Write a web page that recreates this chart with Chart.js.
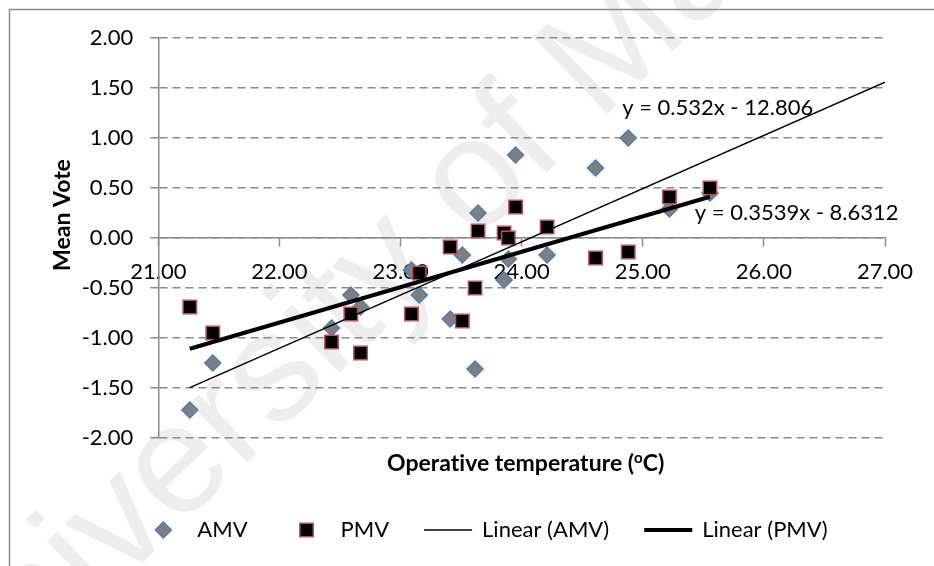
<!DOCTYPE html>
<html>
<head>
<meta charset="utf-8">
<script src="https://cdn.jsdelivr.net/npm/chart.js@4.4.0/dist/chart.umd.min.js"></script>
<style>
html, body { margin: 0; padding: 0; background: #fff; }
#wrap { width: 934px; height: 566px; position: relative; overflow: hidden; }
</style>
</head>
<body>
<div id="wrap"><canvas id="myChart" width="934" height="566"></canvas></div>
<script>
// operative temperature (x) with actual / predicted mean votes
const temps = [21.26, 21.45, 22.43, 22.59, 22.67, 23.09, 23.155, 23.41, 23.51, 23.615, 23.64, 23.855, 23.89, 23.95, 24.21, 24.61, 24.88, 25.22, 25.555]
const amv = [-1.72, -1.25, -0.90, -0.57, -0.69, -0.32, -0.57, -0.81, -0.17, -1.31, 0.25, -0.42, -0.21, 0.83, -0.17, 0.70, 1.00, 0.29, 0.45]
const pmv = [-0.69, -0.95, -1.04, -0.76, -1.15, -0.76, -0.35, -0.09, -0.83, -0.50, 0.07, 0.05, 0.00, 0.31, 0.11, -0.20, -0.14, 0.41, 0.50]

// linear trendlines: [slope, intercept], x range drawn
const amvFit = [0.532, -12.806]
const pmvFit = [0.3539, -8.6312]
const amvFitRange = [21.26, 27]
const pmvFitRange = [21.26, 25.555]
// where the equation text sits (data coords, left edge / middle)
const amvEqPos = [24.83, 1.30]
const pmvEqPos = [25.43, 0.25]

const xTicks = [21, 22, 23, 24, 25, 26, 27]
const yTicks = [-2, -1.5, -1, -0.5, 0, 0.5, 1, 1.5, 2]

const watermark = 'University of Malaya'
const gridGray = '#8a8a8a'
const font = 'Lato'

function points(ys){
	return temps.map((t, i) => ({x: t, y: ys[i]}))
}

function fitLine(fit, range){
	return range.map(x => ({x: x, y: fit[0] * x + fit[1]}))
}

function equation(fit){
	const sign = fit[1] < 0 ? ' - ' : ' + '
	return 'y = ' + fit[0] + 'x' + sign + Math.abs(fit[1])
}

const decor = {
	id: 'decor',
	beforeDraw(chart){
		const ctx = chart.ctx
		ctx.save()
		ctx.fillStyle = '#eeeeee'
		ctx.font = '155px "Liberation Sans"'
		ctx.translate(-46, 745)
		ctx.rotate(-44 * Math.PI / 180)
		ctx.fillText(watermark, 0, 0)
		ctx.restore()

		ctx.save()
		ctx.strokeStyle = gridGray
		ctx.lineWidth = 1.5
		ctx.strokeRect(9.5, 9.5, chart.width + 20, chart.height + 20)
		ctx.restore()
	},
	afterDraw(chart){
		const ctx = chart.ctx
		const area = chart.chartArea
		const sx = chart.scales.x
		const sy = chart.scales.y
		ctx.save()
		ctx.fillStyle = '#000'
		ctx.textBaseline = 'middle'

		// trendline equations
		ctx.font = '22px ' + font
		ctx.textAlign = 'left'
		ctx.fillText(equation(amvFit), sx.getPixelForValue(amvEqPos[0]), sy.getPixelForValue(amvEqPos[1]))
		ctx.fillText(equation(pmvFit), sx.getPixelForValue(pmvEqPos[0]), sy.getPixelForValue(pmvEqPos[1]))

		// x axis title with superscript o (ZWNJ keeps "ti" from joining)
		const t1 = 'Operat\u200Cive temperature ('
		const t2 = 'C)'
		ctx.font = 'bold 23px ' + font
		const w1 = ctx.measureText(t1).width
		const w3 = ctx.measureText(t2).width
		ctx.font = 'bold 15px ' + font
		const w2 = ctx.measureText('o').width
		const cx = (area.left + area.right) / 2 + 4
		const ty = area.bottom + 26
		let x0 = cx - (w1 + w2 + w3) / 2
		ctx.font = 'bold 23px ' + font
		ctx.fillText(t1, x0, ty)
		ctx.font = 'bold 15px ' + font
		ctx.fillText('o', x0 + w1, ty - 6)
		ctx.font = 'bold 23px ' + font
		ctx.fillText(t2, x0 + w1 + w2, ty)

		// y axis title
		ctx.save()
		ctx.translate(63, (area.top + area.bottom) / 2 - 23)
		ctx.rotate(-Math.PI / 2)
		ctx.textAlign = 'center'
		ctx.fillText('Mean Vote', 0, 0)
		ctx.restore()

		// legend row
		ctx.font = '22px ' + font
		const boxW = 48, textGap = 10, itemGap = 35
		const sets = chart.data.datasets
		const widths = sets.map(d => boxW + textGap + ctx.measureText(d.label).width)
		const total = widths.reduce((a, b) => a + b, 0) + itemGap * (sets.length - 1)
		let lx = 483.5 - total / 2
		const ly = area.bottom + 92
		sets.forEach((d, i) => {
			const mid = lx + boxW / 2
			if (d.type === 'line') {
				ctx.strokeStyle = d.borderColor
				ctx.lineWidth = d.borderWidth
				ctx.beginPath()
				ctx.moveTo(lx, ly)
				ctx.lineTo(lx + boxW, ly)
				ctx.stroke()
			} else {
				ctx.fillStyle = d.backgroundColor
				ctx.strokeStyle = d.borderColor
				ctx.lineWidth = d.borderWidth
				Chart.helpers.drawPoint(ctx, {pointStyle: d.pointStyle, radius: d.pointRadius, rotation: 0, borderWidth: d.borderWidth}, mid, ly)
			}
			ctx.fillStyle = '#000'
			ctx.textAlign = 'left'
			ctx.fillText(d.label, lx + boxW + textGap, ly)
			lx += widths[i] + itemGap
		})
		ctx.restore()
	}
}

const context = document.getElementById('myChart')
const config = {
	type: 'scatter',
	data: {
		datasets: [
			{
				label: 'AMV',
				data: points(amv),
				pointStyle: 'rectRot',
				pointRadius: 8,
				backgroundColor: '#7f7f7f',
				borderColor: '#4a7ebb',
				borderWidth: 1.5,
				order: 3
			},
			{
				label: 'PMV',
				data: points(pmv),
				pointStyle: 'rect',
				pointRadius: 9.5,
				backgroundColor: '#000000',
				borderColor: '#c0504d',
				borderWidth: 1.5,
				order: 2
			},
			{
				label: 'Linear (AMV)',
				type: 'line',
				data: fitLine(amvFit, amvFitRange),
				borderColor: '#000000',
				borderWidth: 1.5,
				pointRadius: 0,
				fill: false,
				order: 1
			},
			{
				label: 'Linear (PMV)',
				type: 'line',
				data: fitLine(pmvFit, pmvFitRange),
				borderColor: '#000000',
				borderWidth: 4,
				pointRadius: 0,
				fill: false,
				order: 0
			}
		]
	},
	options: {
		responsive: false,
		animation: false,
		events: [],
		layout: {padding: {left: 0, top: 38, right: 49, bottom: 128}},
		plugins: {legend: {display: false}, tooltip: {enabled: false}},
		scales: {
			x: {
				type: 'linear',
				position: {y: 0},
				min: xTicks[0],
				max: xTicks[xTicks.length - 1],
				afterBuildTicks: s => { s.ticks = xTicks.map(v => ({value: v})) },
				ticks: {
					callback: v => Number(v).toFixed(2),
					color: '#000',
					font: {family: font, size: 22},
					padding: 13,
					maxRotation: 0
				},
				grid: {drawOnChartArea: false, tickLength: 8, tickColor: gridGray, tickWidth: 1.5},
				border: {color: gridGray, width: 1.5}
			},
			y: {
				min: yTicks[0],
				max: yTicks[yTicks.length - 1],
				afterBuildTicks: s => { s.ticks = yTicks.map(v => ({value: v})) },
				afterFit: s => { s.width = 158.3 },
				ticks: {
					callback: v => Number(v).toFixed(2),
					color: '#000',
					font: {family: font, size: 22},
					padding: 17
				},
				grid: {color: gridGray, lineWidth: 1.5, tickLength: 8, tickColor: gridGray, tickWidth: 1.5},
				border: {color: gridGray, width: 1.5, dash: [8, 5]}
			}
		}
	},
	plugins: [decor]
}
const myChart = new Chart(context, config)
</script>
</body>
</html>
